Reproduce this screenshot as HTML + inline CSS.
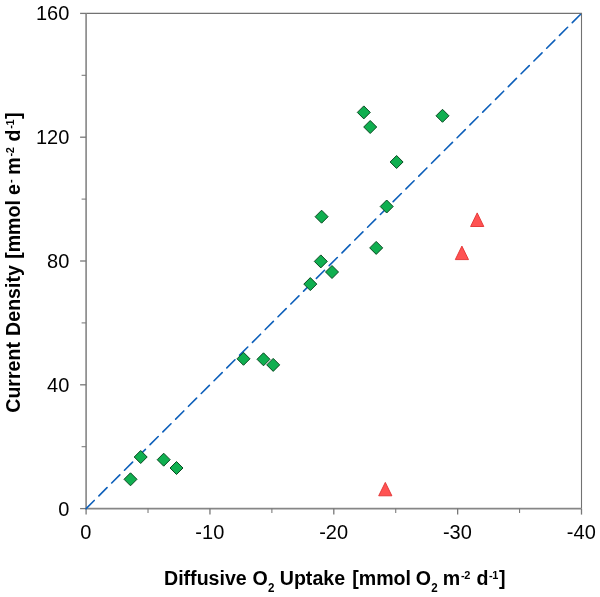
<!DOCTYPE html>
<html lang="en"><head><meta charset="utf-8"><title>Current Density vs Diffusive O2 Uptake</title>
<style>html,body{margin:0;padding:0;background:#fff;}svg{display:block;will-change:transform;}text{filter:grayscale(1);}text{font-family:"Liberation Sans",Arial,Helvetica,sans-serif;fill:#000;}.tk{font-size:20px;}.tt{font-size:19.6px;font-weight:bold;}.s{font-size:11.6px;font-weight:bold;}.p{font-size:11px;font-weight:bold;letter-spacing:-0.4px;}</style></head><body>
<svg width="600" height="597" viewBox="0 0 600 597">
<rect width="600" height="597" fill="#fff"/>
<g stroke="#787878" fill="none">
<path d="M86.1 13.4H581.5V508.6" stroke-width="1.1" stroke="#727272"/>
<path d="M86.1 13.4V508.6H581.5" stroke-width="1.6" stroke="#868686"/>
<path d="M86.10 508.6v6" stroke-width="1.3"/>
<path d="M86.1 508.60h-6" stroke-width="1.3"/>
<path d="M148.02 508.6v4.5" stroke-width="1.05"/>
<path d="M86.1 446.70h-4.5" stroke-width="1.05"/>
<path d="M209.95 508.6v6" stroke-width="1.3"/>
<path d="M86.1 384.80h-6" stroke-width="1.3"/>
<path d="M271.88 508.6v4.5" stroke-width="1.05"/>
<path d="M86.1 322.90h-4.5" stroke-width="1.05"/>
<path d="M333.80 508.6v6" stroke-width="1.3"/>
<path d="M86.1 261.00h-6" stroke-width="1.3"/>
<path d="M395.73 508.6v4.5" stroke-width="1.05"/>
<path d="M86.1 199.10h-4.5" stroke-width="1.05"/>
<path d="M457.65 508.6v6" stroke-width="1.3"/>
<path d="M86.1 137.20h-6" stroke-width="1.3"/>
<path d="M519.57 508.6v4.5" stroke-width="1.05"/>
<path d="M86.1 75.30h-4.5" stroke-width="1.05"/>
<path d="M581.50 508.6v6" stroke-width="1.3"/>
<path d="M86.1 13.40h-6" stroke-width="1.3"/>
</g>
<path d="M86.1 508.6L581.5 13.4" stroke="#0D5FBA" stroke-width="1.6" stroke-linecap="round" stroke-dasharray="11.5 6.59" fill="none"/>
<g fill="#10AF50" stroke="#0A4A22" stroke-width="1" stroke-linejoin="miter">
<path d="M124.0 479.3L130.5 472.8L137.0 479.3L130.5 485.8Z"/>
<path d="M134.2 457.0L140.7 450.5L147.2 457.0L140.7 463.5Z"/>
<path d="M157.2 459.7L163.7 453.2L170.2 459.7L163.7 466.2Z"/>
<path d="M170.0 468.0L176.5 461.5L183.0 468.0L176.5 474.5Z"/>
<path d="M237.0 358.8L243.5 352.3L250.0 358.8L243.5 365.3Z"/>
<path d="M257.0 359.3L263.5 352.8L270.0 359.3L263.5 365.8Z"/>
<path d="M266.7 364.9L273.2 358.4L279.7 364.9L273.2 371.4Z"/>
<path d="M303.8 284.1L310.3 277.6L316.8 284.1L310.3 290.6Z"/>
<path d="M314.3 261.4L320.8 254.9L327.3 261.4L320.8 267.9Z"/>
<path d="M325.5 272.0L332.0 265.5L338.5 272.0L332.0 278.5Z"/>
<path d="M315.1 216.7L321.6 210.2L328.1 216.7L321.6 223.2Z"/>
<path d="M369.7 247.9L376.2 241.4L382.7 247.9L376.2 254.4Z"/>
<path d="M380.2 206.5L386.7 200.0L393.2 206.5L386.7 213.0Z"/>
<path d="M390.1 162.0L396.6 155.5L403.1 162.0L396.6 168.5Z"/>
<path d="M363.7 127.0L370.2 120.5L376.7 127.0L370.2 133.5Z"/>
<path d="M357.3 112.4L363.8 105.9L370.3 112.4L363.8 118.9Z"/>
<path d="M436.0 115.8L442.5 109.3L449.0 115.8L442.5 122.3Z"/>
</g>
<g fill="#FF5252" stroke="#E23030" stroke-width="0.9">
<path d="M385.3 482.4L391.9 495.8L378.7 495.8Z"/>
<path d="M461.9 246.1L468.5 259.6L455.3 259.6Z"/>
<path d="M477.2 212.9L483.8 226.5L470.6 226.5Z"/>
</g>
<text class="tk" transform="translate(69.3 515.5) scale(1 1.04)" text-anchor="end">0</text>
<text class="tk" transform="translate(69.3 391.7) scale(1 1.04)" text-anchor="end">40</text>
<text class="tk" transform="translate(69.3 267.9) scale(1 1.04)" text-anchor="end">80</text>
<text class="tk" transform="translate(69.3 144.1) scale(1 1.04)" text-anchor="end">120</text>
<text class="tk" transform="translate(69.3 20.3) scale(1 1.04)" text-anchor="end">160</text>
<text class="tk" transform="translate(85.9 539.1) scale(1 1.04)" text-anchor="middle">0</text>
<text class="tk" transform="translate(209.8 539.1) scale(1 1.04)" text-anchor="middle">-10</text>
<text class="tk" transform="translate(333.6 539.1) scale(1 1.04)" text-anchor="middle">-20</text>
<text class="tk" transform="translate(457.4 539.1) scale(1 1.04)" text-anchor="middle">-30</text>
<text class="tk" transform="translate(581.3 539.1) scale(1 1.04)" text-anchor="middle">-40</text>
<g id="xt">
<text id="x0" class="tt" transform="translate(164.00 585.10) scale(1 1.04)">Diffusive</text>
<text id="x1" class="tt" transform="translate(252.50 585.10) scale(1 1.04)">O</text>
<text id="x2" class="s" transform="translate(268.00 591.70) scale(1 1.04)">2</text>
<text id="x3" class="tt" transform="translate(279.75 585.10) scale(1 1.04)">Uptake</text>
<text id="x4" class="tt" transform="translate(352.20 585.10) scale(1 1.04)">[mmol</text>
<text id="x5" class="tt" transform="translate(415.75 585.10) scale(1 1.04)">O</text>
<text id="x6" class="s" transform="translate(431.30 591.70) scale(1 1.04)">2</text>
<text id="x7" class="tt" transform="translate(442.75 585.10) scale(1 1.04)">m</text>
<text id="x8" class="p" transform="translate(461.00 578.70) scale(1 1.04)">-2</text>
<text id="x9" class="tt" transform="translate(476.55 585.10) scale(1 1.04)">d</text>
<text id="x10" class="p" transform="translate(488.90 578.70) scale(1 1.04)">-1</text>
<text id="x11" class="tt" transform="translate(498.90 585.10) scale(1 1.04)">]</text>
</g>
<g id="yt">
<text id="y0" class="tt" transform="translate(20.20 412.75) rotate(-90) scale(1 1.04)">Current</text>
<text id="y1" class="tt" transform="translate(20.20 335.90) rotate(-90) scale(1 1.04)">Density</text>
<text id="y2" class="tt" transform="translate(20.20 258.85) rotate(-90) scale(1 1.04)">[mmol</text>
<text id="y3" class="tt" transform="translate(20.20 194.90) rotate(-90) scale(1 1.04)">e</text>
<text id="y4" class="p" transform="translate(13.80 183.05) rotate(-90) scale(1 1.04)">-</text>
<text id="y5" class="tt" transform="translate(20.20 174.85) rotate(-90) scale(1 1.04)">m</text>
<text id="y6" class="p" transform="translate(13.80 156.60) rotate(-90) scale(1 1.04)">-2</text>
<text id="y7" class="tt" transform="translate(20.20 141.50) rotate(-90) scale(1 1.04)">d</text>
<text id="y8" class="p" transform="translate(13.80 128.70) rotate(-90) scale(1 1.04)">-1</text>
<text id="y9" class="tt" transform="translate(20.20 118.95) rotate(-90) scale(1 1.04)">]</text>
</g>
</svg></body></html>
